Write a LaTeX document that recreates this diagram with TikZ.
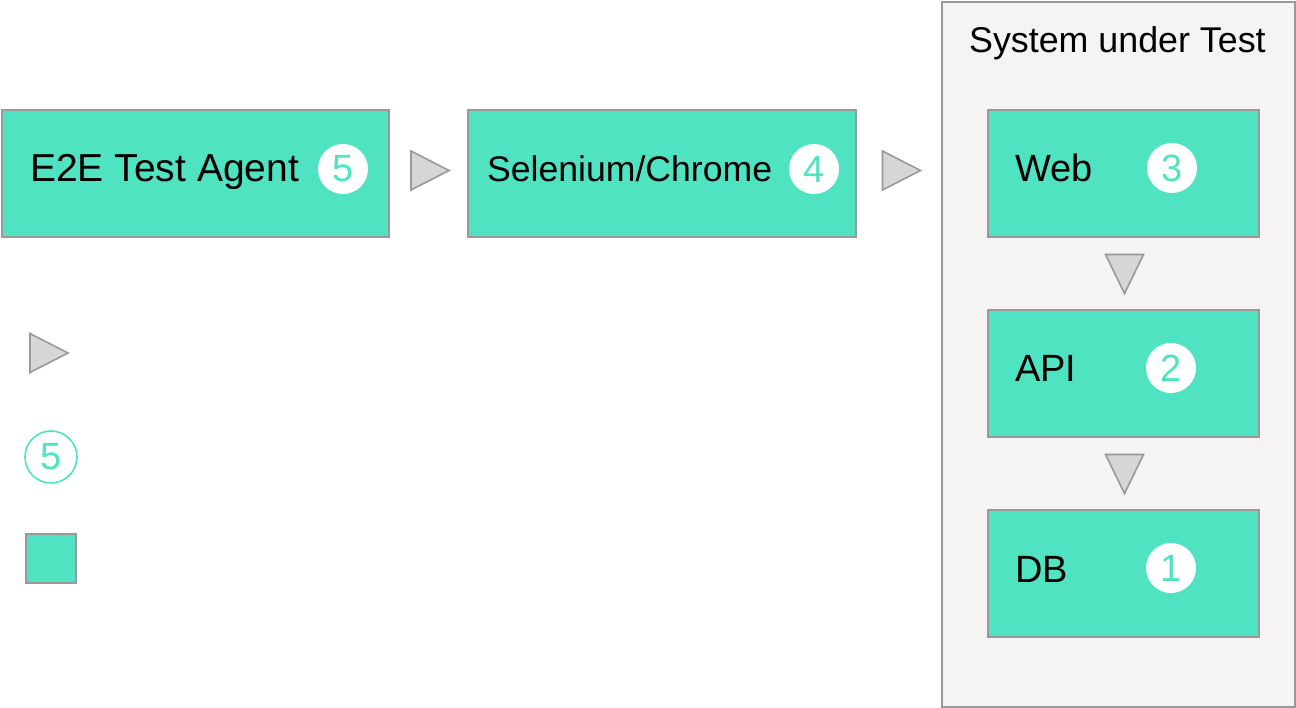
\documentclass[tikz,border=0pt]{standalone}
\usepackage{fontspec}
\setmainfont{Liberation Sans}
\usetikzlibrary{calc}
\definecolor{teal}{HTML}{50E3C2}
\definecolor{edge}{HTML}{999999}
\definecolor{trifill}{HTML}{D6D6D6}
\definecolor{sutfill}{HTML}{F5F3F4}
\tikzset{
  box/.style={draw=edge, line width=2pt, fill=teal, anchor=north west, inner sep=0pt},
  sutbox/.style={draw=edge, line width=2pt, fill=sutfill, anchor=north west, inner sep=0pt},
  badge/.style={circle, fill=white, text=teal, inner sep=0pt, minimum size=50pt, font=\fontsize{38}{38}\selectfont},
  lbl/.style={anchor=base west, inner sep=0pt, text=black},
  tri/.style={draw=edge, line width=1.6pt, fill=trifill, line join=miter}
}
\begin{document}
\begin{tikzpicture}[x=1pt,y=-1pt]
\useasboundingbox (0,0) rectangle (1296,708);
% container
\node[sutbox, minimum width=353pt, minimum height=705pt] (sut) at (941,1) {};
\node[lbl, font=\fontsize{35.8}{35.8}\selectfont] (sutlbl) at (969,53) {System under Test};
% boxes
\node[box, minimum width=387pt, minimum height=127pt] (e2e) at (1,109) {};
\node[box, minimum width=388pt, minimum height=127pt] (sel) at (467,109) {};
\node[box, minimum width=271pt, minimum height=127pt] (web) at (987,109) {};
\node[box, minimum width=271pt, minimum height=127pt] (api) at (987,309) {};
\node[box, minimum width=271pt, minimum height=127pt] (db) at (987,509) {};
% labels
\node[lbl, font=\fontsize{39}{39}\selectfont] (e2elbl) at (30,182) {E2E Test Agent};
\node[lbl, font=\fontsize{35.6}{35.6}\selectfont] (sellbl) at (487,182) {Selenium/Chrome};
\node[lbl, font=\fontsize{38}{38}\selectfont] (weblbl) at (1015,182) {Web};
\node[lbl, font=\fontsize{38}{38}\selectfont] (apilbl) at (1015,382) {API};
\node[lbl, font=\fontsize{38}{38}\selectfont] (dblbl) at (1015,582) {DB};
% badges
\node[badge] (b5) at (343,169) {5};
\node[badge] (b4) at (814,169) {4};
\node[badge] (b3) at (1172,168) {3};
\node[badge] (b2) at (1171,368) {2};
\node[badge] (b1) at (1171,568) {1};
% connectors (triangles)
\coordinate (t1) at ($(e2e.east)!0.5!(sel.west)+(1.5,-3)$);
\draw[tri] (t1) ++(-19,-19.5) -- ++(38,19.5) -- ++(-38,19.5) -- cycle;
\coordinate (t2) at ($(sel.east)!0.5!(sut.west |- sel.east)+(2.5,-3)$);
\draw[tri] (t2) ++(-19,-19.5) -- ++(38,19.5) -- ++(-38,19.5) -- cycle;
\coordinate (t3) at ($(web.south)!0.5!(api.north)+(1,0.5)$);
\draw[tri] (t3) ++(-19,-19.5) -- ++(38,0) -- ++(-19,39) -- cycle;
\coordinate (t4) at ($(api.south)!0.5!(db.north)+(1,0.5)$);
\draw[tri] (t4) ++(-19,-19.5) -- ++(38,0) -- ++(-19,39) -- cycle;
% legend
\coordinate (lt) at (49,353);
\draw[tri] (lt) ++(-19,-19.5) -- ++(38,19.5) -- ++(-38,19.5) -- cycle;
\node[badge, draw=teal, line width=1.6pt, minimum size=52pt] (lc) at (51,457) {5};
\node[box, minimum width=50pt, minimum height=49pt] (lsq) at (25,533) {};
\end{tikzpicture}
\end{document}
